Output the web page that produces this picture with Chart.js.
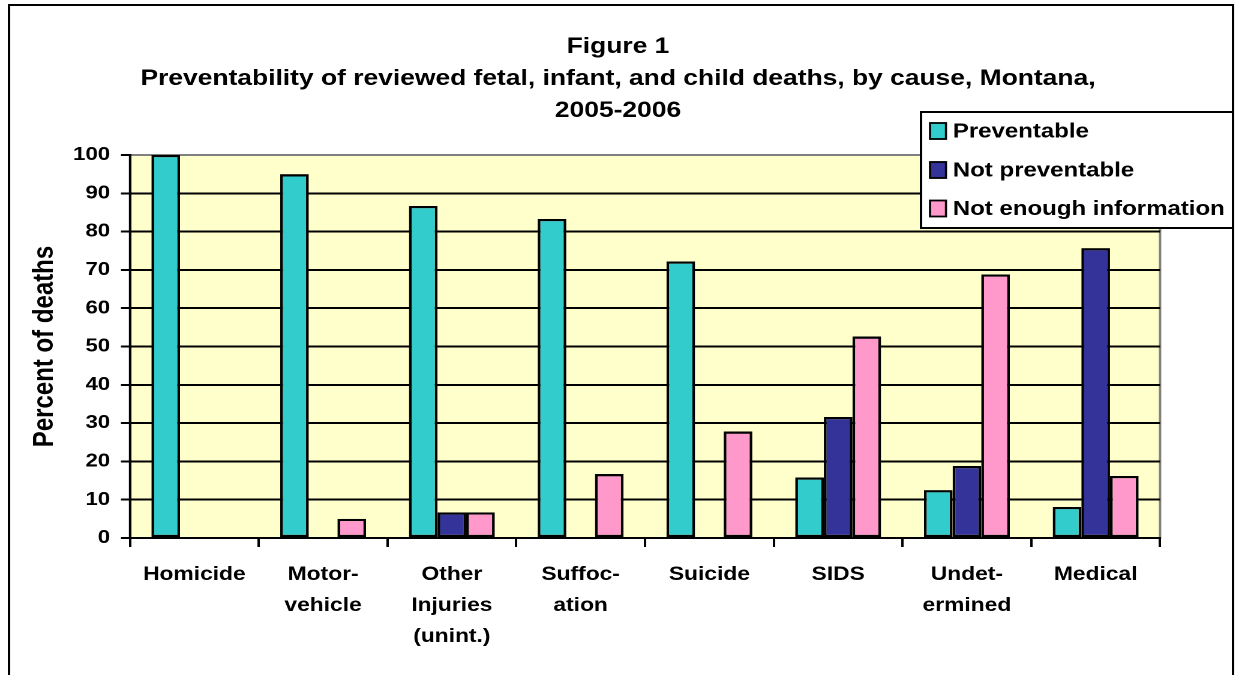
<!DOCTYPE html>
<html>
<head>
<meta charset="utf-8">
<script src="https://cdn.jsdelivr.net/npm/chart.js@4/dist/chart.umd.min.js"></script>
<style>
  html, body { margin: 0; padding: 0; background: #ffffff; overflow: hidden; }
  #wrap { position: absolute; left: 0; top: 0; width: 1030px; height: 675px;
          transform: scaleX(1.2); transform-origin: 0 0; }
</style>
</head>
<body>
<div id="wrap"><canvas id="chart"></canvas></div>
<script>
// ---- data ----
const categories = [
  ["Homicide"],
  ["Motor-", "vehicle"],
  ["Other", "Injuries", "(unint.)"],
  ["Suffoc-", "ation"],
  ["Suicide"],
  ["SIDS"],
  ["Undet-", "ermined"],
  ["Medical"]
];
const seriesNames = ["Preventable", "Not preventable", "Not enough information"];
const preventable    = [100, 95, 86.7, 83.3, 72.2, 15.8, 12.5, 8.1];
const notPreventable = [0, 0, 6.7, 0, 0, 31.6, 18.8, 75.7];
const notEnoughInfo  = [0, 5, 6.7, 16.7, 27.8, 52.6, 68.8, 16.2];
const yTickValues = [0, 10, 20, 30, 40, 50, 60, 70, 80, 90, 100];
const titleLines = [
  "Figure 1",
  "Preventability of reviewed fetal, infant, and child deaths, by cause, Montana,",
  "2005-2006"
];
const yAxisTitle = "Percent of deaths";

// ---- styles ----
const FONT = "'Liberation Sans', Arial, Helvetica, sans-serif";
const seriesColors = ["#33CCCC", "#333399", "#FF99CC"];
const plotBg = "#FFFFCC";

const framePlugin = {
  id: 'frame',
  afterLayout(chart) {
    const t = chart.titleBlock;
    if (t) { t.left = 0; t.right = chart.width; t.width = chart.width; }
  },
  beforeDraw(chart) {
    const { ctx, chartArea: a } = chart;
    ctx.save();
    ctx.fillStyle = '#ffffff';
    ctx.fillRect(0, 0, chart.width, chart.height);
    ctx.fillStyle = plotBg;
    ctx.fillRect(a.left, a.top, a.right - a.left, a.bottom - a.top);
    ctx.strokeStyle = '#808080';
    ctx.lineWidth = 2;
    ctx.strokeRect(a.left, a.top, a.right - a.left, a.bottom - a.top);
    ctx.restore();
  },
  afterDraw(chart) {
    const { ctx } = chart;
    ctx.save();
    // outer frame
    ctx.strokeStyle = '#000';
    ctx.lineWidth = 2;
    ctx.beginPath();
    ctx.moveTo(7.5, chart.height + 10);
    ctx.lineTo(7.5, 5);
    ctx.lineTo(1027.5, 5);
    ctx.lineTo(1027.5, chart.height + 10);
    ctx.stroke();
    // legend box
    const lx = 767.5, ly = 112, lw = 260, lh = 116;
    ctx.fillStyle = '#fff';
    ctx.fillRect(lx, ly, lw, lh);
    ctx.strokeRect(lx, ly, lw, lh);
    const rows = [131, 170, 208.5];
    ctx.font = "bold 20px " + FONT;
    ctx.textBaseline = 'middle';
    ctx.textAlign = 'left';
    seriesNames.forEach((name, i) => {
      const cy = rows[i];
      ctx.fillStyle = seriesColors[i];
      ctx.fillRect(775, cy - 8, 13.3, 16);
      ctx.lineWidth = 1.8;
      ctx.strokeStyle = '#000';
      ctx.strokeRect(775, cy - 8, 13.3, 16);
      ctx.fillStyle = '#000';
      ctx.fillText(name, 794, cy + 1);
    });
    ctx.restore();
  }
};

const dataSeries = [preventable, notPreventable, notEnoughInfo];

new Chart(document.getElementById('chart'), {
  type: 'bar',
  data: {
    labels: categories,
    datasets: dataSeries.map((vals, i) => ({
      label: seriesNames[i],
      data: vals,
      backgroundColor: seriesColors[i],
      borderColor: '#000',
      borderWidth: 2.3,
      borderSkipped: false,
      categoryPercentage: 0.667,
      barPercentage: 1.0
    }))
  },
  options: {
    responsive: true,
    maintainAspectRatio: false,
    animation: false,
    devicePixelRatio: 2,
    layout: { padding: { left: 10, right: 63.3, top: 0, bottom: 0 } },
    plugins: {
      legend: { display: false },
      tooltip: { enabled: false },
      title: {
        display: true,
        text: titleLines,
        color: '#000',
        font: { family: FONT, size: 22, weight: 'bold', lineHeight: 32 / 22 },
        padding: { top: 31, bottom: 28 }
      }
    },
    scales: {
      x: {
        afterFit(scale) { scale.height = 137; },
        grid: {
          display: true, drawOnChartArea: false, drawTicks: true,
          tickLength: 9, offset: true, color: '#000', lineWidth: 2
        },
        border: { display: true, color: '#000', width: 2 },
        ticks: {
          color: '#000', autoSkip: false, maxRotation: 0, minRotation: 0,
          padding: 12.5,
          font: { family: FONT, size: 19, weight: 'bold', lineHeight: 31 / 19 }
        }
      },
      y: {
        min: 0, max: 100,
        afterFit(scale) { scale.width = 98.3; },
        afterBuildTicks(scale) { scale.ticks = yTickValues.map(v => ({ value: v })); },
        grid: {
          color: (c) => (c.tick && c.tick.value === 100) ? '#808080' : '#000',
          tickColor: '#000',
          lineWidth: 2, tickLength: 7.5, drawTicks: true
        },
        border: { display: true, color: '#000', width: 2 },
        ticks: {
          color: '#000', padding: 9,
          font: { family: FONT, size: 18.5, weight: 'bold' }
        },
        title: {
          display: true, text: yAxisTitle, color: '#000',
          font: { family: FONT, size: 24, weight: 'bold' },
          padding: { top: 13, bottom: 0 }
        }
      }
    }
  },
  plugins: [framePlugin]
});
</script>
</body>
</html>
